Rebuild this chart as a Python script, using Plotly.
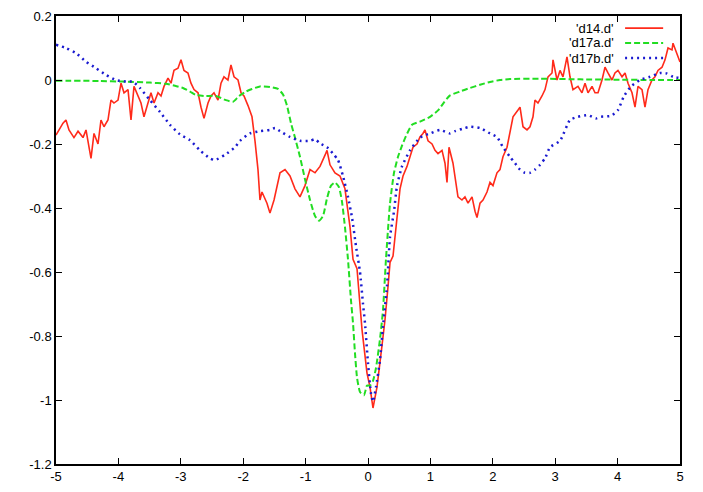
import plotly.graph_objects as go

# ---- data ----
d14_x = [-5.000, -4.888, -4.840, -4.792, -4.712, -4.647, -4.567, -4.519, -4.471, -4.439,
         -4.391, -4.327, -4.279, -4.231, -4.167, -4.119, -4.071, -4.006, -3.958, -3.910,
         -3.846, -3.798, -3.750, -3.686, -3.638, -3.590, -3.526, -3.478, -3.429, -3.365,
         -3.317, -3.269, -3.205, -3.157, -3.109, -3.045, -2.997, -2.949, -2.885, -2.837,
         -2.788, -2.724, -2.676, -2.628, -2.564, -2.516, -2.468, -2.404, -2.356, -2.308,
         -2.244, -2.196, -2.147, -2.083, -2.035, -1.987, -1.923, -1.859, -1.811, -1.763,
         -1.731, -1.699, -1.619, -1.571, -1.506, -1.410, -1.330, -1.250, -1.170, -1.090,
         -1.010, -0.929, -0.849, -0.769, -0.689, -0.657, -0.609, -0.529, -0.449, -0.369,
         -0.288, -0.240, -0.176, -0.128, -0.096, -0.016, 0.032, 0.080, 0.144, 0.224,
         0.272, 0.321, 0.353, 0.401, 0.449, 0.513, 0.561, 0.625, 0.673, 0.721,
         0.785, 0.833, 0.881, 0.913, 0.962, 1.026, 1.074, 1.122, 1.186, 1.234,
         1.266, 1.298, 1.362, 1.394, 1.442, 1.506, 1.554, 1.603, 1.667, 1.715,
         1.747, 1.795, 1.843, 1.907, 1.955, 2.003, 2.067, 2.115, 2.163, 2.228,
         2.276, 2.324, 2.404, 2.436, 2.484, 2.548, 2.596, 2.644, 2.676, 2.724,
         2.788, 2.837, 2.885, 2.949, 2.965, 3.029, 3.077, 3.125, 3.189, 3.237,
         3.285, 3.365, 3.429, 3.478, 3.526, 3.590, 3.638, 3.686, 3.750, 3.798,
         3.846, 3.910, 3.958, 4.006, 4.071, 4.119, 4.167, 4.231, 4.279, 4.327,
         4.391, 4.439, 4.487, 4.551, 4.599, 4.647, 4.712, 4.760, 4.808, 4.872,
         4.888, 4.952, 5.000]
d14_y = [-0.172, -0.135, -0.125, -0.156, -0.180, -0.160, -0.180, -0.156, -0.210, -0.245,
         -0.167, -0.200, -0.125, -0.146, -0.125, -0.063, -0.072, -0.063, -0.010, -0.040,
         -0.030, -0.125, -0.020, -0.050, -0.072, -0.115, -0.072, -0.040, -0.072, -0.040,
         -0.050, -0.020, 0.006, -0.010, 0.030, 0.037, 0.063, 0.030, 0.022, -0.010,
         -0.030, -0.040, -0.085, -0.120, -0.072, -0.050, -0.040, -0.063, -0.010, 0.010,
         0.000, 0.047, 0.010, 0.000, -0.040, -0.050, -0.080, -0.115, -0.190, -0.280,
         -0.375, -0.350, -0.385, -0.416, -0.375, -0.290, -0.280, -0.300, -0.340, -0.365,
         -0.330, -0.280, -0.290, -0.270, -0.235, -0.220, -0.265, -0.290, -0.300, -0.340,
         -0.460, -0.560, -0.590, -0.720, -0.780, -0.916, -0.960, -1.025, -0.960, -0.830,
         -0.750, -0.645, -0.570, -0.550, -0.460, -0.340, -0.300, -0.270, -0.240, -0.210,
         -0.200, -0.178, -0.167, -0.156, -0.190, -0.200, -0.220, -0.230, -0.220, -0.260,
         -0.320, -0.210, -0.260, -0.300, -0.365, -0.375, -0.365, -0.385, -0.365, -0.410,
         -0.430, -0.385, -0.375, -0.350, -0.320, -0.330, -0.290, -0.280, -0.240, -0.210,
         -0.156, -0.115, -0.094, -0.085, -0.146, -0.156, -0.146, -0.115, -0.063, -0.072,
         -0.050, -0.030, 0.010, 0.022, 0.063, 0.000, 0.030, 0.010, 0.072, 0.010,
         -0.030, -0.020, -0.040, -0.010, -0.040, -0.020, -0.040, -0.040, 0.000, 0.040,
         0.022, 0.000, 0.022, 0.030, 0.010, 0.022, -0.010, -0.040, -0.085, -0.020,
         -0.030, -0.085, -0.030, 0.000, 0.010, 0.030, 0.040, 0.063, 0.100, 0.094,
         0.115, 0.084, 0.056]

d17a_x = [-5.000, -4.295, -3.926, -3.494, -3.237, -3.093, -2.965, -2.853, -2.756, -2.612,
          -2.436, -2.276, -2.163, -2.067, -1.955, -1.859, -1.731, -1.571, -1.442, -1.362,
          -1.298, -1.234, -1.170, -1.090, -1.010, -0.929, -0.849, -0.785, -0.721, -0.657,
          -0.593, -0.529, -0.465, -0.417, -0.369, -0.321, -0.272, -0.240, -0.208, -0.176,
          -0.128, -0.064, -0.016, 0.032, 0.080, 0.128, 0.192, 0.240, 0.288, 0.353,
          0.417, 0.481, 0.545, 0.609, 0.705, 0.833, 0.994, 1.122, 1.218, 1.314,
          1.474, 1.635, 1.795, 1.955, 2.115, 2.276, 2.756, 3.397, 4.038, 4.519, 5.000]
d17a_y = [-0.002, -0.003, -0.005, -0.008, -0.012, -0.018, -0.025, -0.036, -0.047, -0.050,
          -0.050, -0.063, -0.068, -0.050, -0.036, -0.028, -0.020, -0.022, -0.028, -0.045,
          -0.080, -0.135, -0.180, -0.240, -0.310, -0.375, -0.425, -0.440, -0.425, -0.370,
          -0.330, -0.320, -0.335, -0.380, -0.460, -0.560, -0.690, -0.760, -0.855, -0.930,
          -0.975, -0.985, -0.955, -0.955, -0.940, -0.900, -0.810, -0.720, -0.560, -0.385,
          -0.290, -0.240, -0.205, -0.175, -0.140, -0.130, -0.115, -0.095, -0.070, -0.048,
          -0.036, -0.025, -0.015, -0.006, 0.000, 0.003, 0.004, 0.002, 0.001, 0.000, 0.000]

d17b_x = [-5.000, -4.840, -4.679, -4.519, -4.359, -4.199, -4.038, -3.878, -3.766, -3.654,
          -3.494, -3.333, -3.173, -3.013, -2.853, -2.692, -2.532, -2.452, -2.292, -2.131,
          -2.051, -1.891, -1.731, -1.571, -1.490, -1.410, -1.250, -1.090, -0.929, -0.849,
          -0.769, -0.657, -0.561, -0.481, -0.401, -0.321, -0.256, -0.192, -0.128, -0.080,
          -0.048, 0.000, 0.048, 0.080, 0.128, 0.192, 0.240, 0.304, 0.353, 0.417,
          0.465, 0.545, 0.673, 0.833, 0.994, 1.154, 1.314, 1.394, 1.554, 1.635,
          1.795, 1.955, 2.067, 2.163, 2.276, 2.356, 2.436, 2.516, 2.596, 2.676,
          2.756, 2.837, 2.917, 3.077, 3.237, 3.365, 3.526, 3.654, 3.734, 3.894,
          4.006, 4.103, 4.215, 4.359, 4.519, 4.679, 4.792, 4.888, 5.000]
d17b_y = [0.110, 0.100, 0.084, 0.057, 0.037, 0.016, 0.000, -0.005, -0.005, -0.025,
          -0.063, -0.100, -0.140, -0.170, -0.188, -0.220, -0.245, -0.250, -0.234, -0.210,
          -0.190, -0.167, -0.160, -0.156, -0.150, -0.160, -0.178, -0.190, -0.190, -0.185,
          -0.198, -0.210, -0.230, -0.250, -0.300, -0.365, -0.430, -0.520, -0.600, -0.700,
          -0.760, -0.885, -0.980, -1.005, -0.960, -0.875, -0.770, -0.645, -0.490, -0.410,
          -0.330, -0.270, -0.220, -0.180, -0.167, -0.156, -0.167, -0.160, -0.150, -0.146,
          -0.150, -0.167, -0.178, -0.210, -0.240, -0.260, -0.280, -0.290, -0.290, -0.280,
          -0.265, -0.245, -0.210, -0.190, -0.125, -0.115, -0.110, -0.120, -0.115, -0.112,
          -0.094, -0.050, -0.020, 0.000, 0.010, 0.022, 0.020, 0.010, 0.006]

series_names = ["'d14.d'", "'d17a.d'", "'d17b.d'"]
series_colors = ["#ff2a1a", "#22dd22", "#1a1ad0"]

x_tick_vals = [-5, -4, -3, -2, -1, 0, 1, 2, 3, 4, 5]
x_tick_text = ["-5", "-4", "-3", "-2", "-1", "0", "1", "2", "3", "4", "5"]
y_tick_vals = [0.2, 0, -0.2, -0.4, -0.6, -0.8, -1, -1.2]
y_tick_text = ["0.2", "0", "-0.2", "-0.4", "-0.6", "-0.8", "-1", "-1.2"]

FONT = "Liberation Sans, Arial, Helvetica, sans-serif"

fig = go.Figure()
fig.add_trace(go.Scatter(x=d14_x, y=d14_y, mode="lines", name=series_names[0],
                         line=dict(color=series_colors[0], width=1.6)))
fig.add_trace(go.Scatter(x=d17a_x, y=d17a_y, mode="lines", name=series_names[1],
                         line=dict(color=series_colors[1], width=2, dash="6px,3px", shape="spline", smoothing=0.5)))
fig.add_trace(go.Scatter(x=d17b_x, y=d17b_y, mode="lines", name=series_names[2],
                         line=dict(color=series_colors[2], width=2.5, dash="2px,4px", shape="spline", smoothing=0.5)))

# manual gnuplot-style legend (text right-aligned, sample on the right)
legend_rows_y = [0.973, 0.940, 0.906]
dashes = ["solid", "6px,3px", "2px,4px"]
widths = [1.6, 2, 2.5]
for i in range(3):
    fig.add_annotation(x=0.896, y=legend_rows_y[i], xref="paper", yref="paper",
                       text=series_names[i], showarrow=False, xanchor="right", yanchor="middle",
                       borderpad=0, font=dict(family=FONT, size=13, color="#000000"))
    fig.add_shape(type="line", xref="paper", yref="paper",
                  x0=0.912, x1=0.973, y0=legend_rows_y[i], y1=legend_rows_y[i],
                  line=dict(color=series_colors[i], width=widths[i], dash=dashes[i]))

axis_common = dict(showline=True, linecolor="#000000", linewidth=1.5, mirror="allticks",
                   ticks="inside", ticklen=6, tickwidth=1.2, tickcolor="#000000",
                   showgrid=False, zeroline=False, automargin=False,
                   tickfont=dict(family=FONT, size=13, color="#000000"))

fig.update_xaxes(range=[-5, 5], tickvals=x_tick_vals, ticktext=x_tick_text, **axis_common)
fig.update_yaxes(range=[-1.2, 0.2], tickvals=y_tick_vals, ticktext=y_tick_text, **axis_common)

# page has an 8px body margin, so the figure is sized to fit the window inside it
fig.update_layout(width=687, height=476, showlegend=False,
                  margin=dict(l=48, r=15, t=8, b=20),
                  paper_bgcolor="#ffffff", plot_bgcolor="#ffffff",
                  font=dict(family=FONT, size=13))

fig.write_html("out.html")
